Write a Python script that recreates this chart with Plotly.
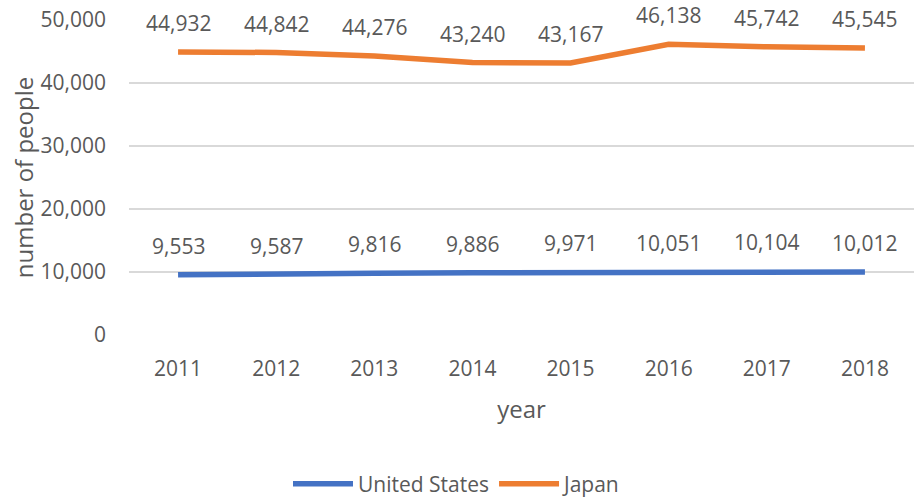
import plotly.graph_objects as go

years = ["2011", "2012", "2013", "2014", "2015", "2016", "2017", "2018"]
us = [9553, 9587, 9816, 9886, 9971, 10051, 10104, 10012]
japan = [44932, 44842, 44276, 43240, 43167, 46138, 45742, 45545]
series_names = ["United States", "Japan"]
y_ticks = [0, 10000, 20000, 30000, 40000, 50000]

BLUE = "#4472C4"
ORANGE = "#ED7D31"
GRAY = "#595959"
FONT = "Open Sans"
FS = 21

fig = go.Figure()
fig.add_trace(go.Scatter(x=years, y=us, mode="lines", name=series_names[0],
                         line=dict(color=BLUE, width=5.5)))
fig.add_trace(go.Scatter(x=years, y=japan, mode="lines", name=series_names[1],
                         line=dict(color=ORANGE, width=5.5)))

for ys in (us, japan):
    for i, yv in enumerate(ys):
        fig.add_annotation(x=i, y=yv, xref="x", yref="y", text=f"{yv:,}",
                           showarrow=False, yshift=29,
                           font=dict(family=FONT, size=FS, color=GRAY))

fig.update_layout(
    width=914, height=499,
    margin=dict(l=129, r=0, t=20, b=164),
    paper_bgcolor="white", plot_bgcolor="white",
    font=dict(family=FONT, size=FS, color=GRAY),
    showlegend=True,
    legend=dict(orientation="h", xref="container", x=0.5, xanchor="center",
                yref="container", y=0.03, yanchor="middle",
                font=dict(family=FONT, size=FS, color=GRAY),
                itemwidth=60, entrywidth=0),
    xaxis=dict(type="category", range=[-0.5, 7.5], showgrid=False, zeroline=False,
               showline=False, ticks="", ticklabelstandoff=19,
               tickfont=dict(family=FONT, size=FS, color=GRAY),
               title=dict(text="year", standoff=20,
                          font=dict(family=FONT, size=24, color=GRAY))),
    yaxis=dict(range=[0, 50000], tickvals=y_ticks, tickformat=",",
               showgrid=True, gridcolor="#D9D9D9", gridwidth=1.5,
               zeroline=False, showline=False, ticks="", ticklabelstandoff=22,
               tickfont=dict(family=FONT, size=FS, color=GRAY),
               title=dict(text="number of people", standoff=0,
                          font=dict(family=FONT, size=24, color=GRAY))),
)

fig.write_html("out.html")
